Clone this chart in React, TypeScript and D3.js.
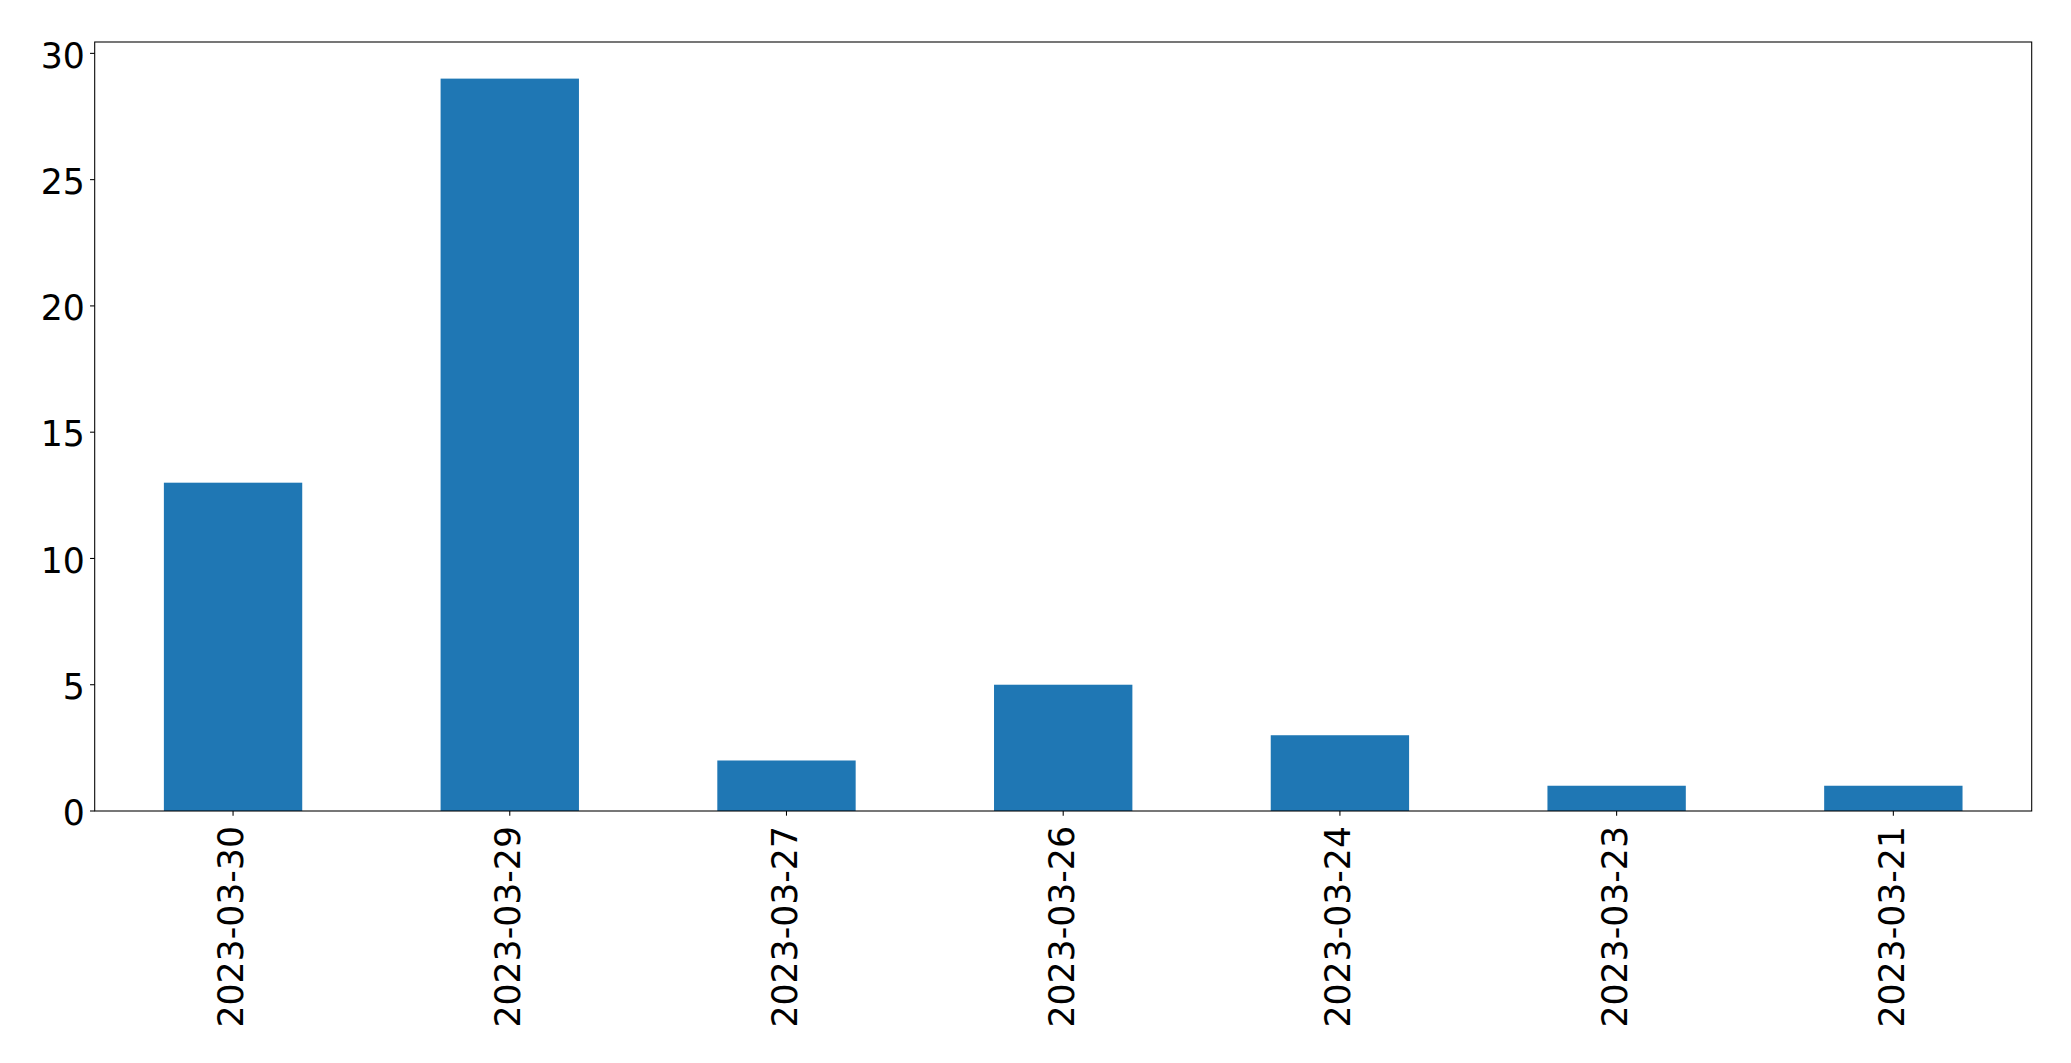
import React from "react";
import * as d3 from "d3";

const categories = ["2023-03-30", "2023-03-29", "2023-03-27", "2023-03-26", "2023-03-24", "2023-03-23", "2023-03-21"];
const values = [13, 29, 2, 5, 3, 1, 1];
const yTicks = [0, 5, 10, 15, 20, 25, 30];

const W = 2071;
const H = 1063;
const left = 94.7;
const right = 2031.7;
const top = 42;
const bottom = 811;
const font = "'DejaVu Sans', sans-serif";
const fs = 34.7;

export default function App() {
  const x = d3.scaleBand<string>().domain(categories).range([left, right]).paddingInner(0.5).paddingOuter(0.25);
  const yMax = d3.max(values)! * 1.05;
  const y = d3.scaleLinear().domain([0, yMax]).range([bottom, top]);
  const tick = 4.67;
  const pad = 4.67;
  return (
    <svg width={W} height={H} style={{ position: "absolute", left: 0, top: 0, background: "#fff" }}>
      <rect x={0} y={0} width={W} height={H} fill="#fff" />
      {categories.map((c, i) => (
        <rect key={c} x={x(c)} y={y(values[i])} width={x.bandwidth()} height={y(0) - y(values[i])} fill="#1f77b4" />
      ))}
      <rect x={left} y={top} width={right - left} height={bottom - top} fill="none" stroke="#000" strokeWidth={1.07} />
      {yTicks.map((t) => (
        <g key={t}>
          <line x1={left - tick} x2={left} y1={y(t)} y2={y(t)} stroke="#000" strokeWidth={1.07} />
          <text x={left - tick - pad - 0.5} y={y(t)} dy="0.41em" textAnchor="end" fontFamily={font} fontSize={fs} fill="#000">
            {t}
          </text>
        </g>
      ))}
      {categories.map((c) => {
        const cx = x(c)! + x.bandwidth() / 2;
        return (
          <g key={c}>
            <line x1={cx} x2={cx} y1={bottom} y2={bottom + tick} stroke="#000" strokeWidth={1.07} />
            <text
              transform={`translate(${cx},${bottom + 15}) rotate(-90)`}
              dy="0.3em"
              textAnchor="end"
              fontFamily={font}
              fontSize={fs}
              fill="#000"
            >
              {c}
            </text>
          </g>
        );
      })}
    </svg>
  );
}
